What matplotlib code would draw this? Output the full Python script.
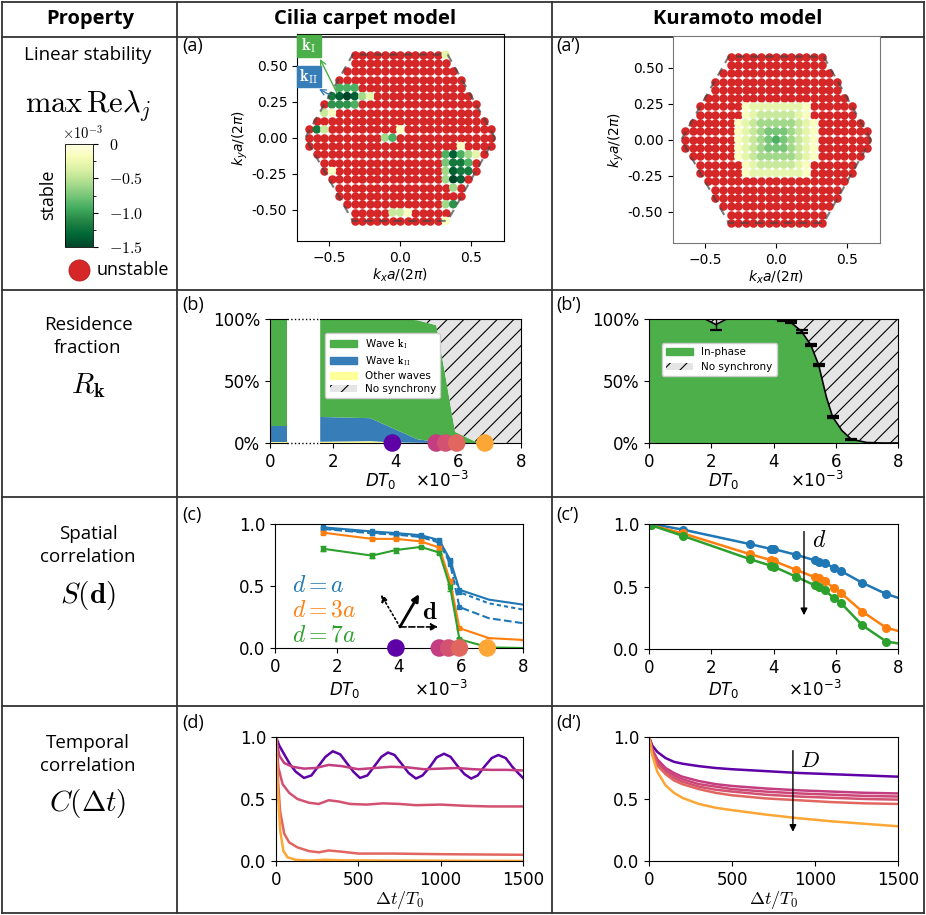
import numpy as np
import matplotlib
matplotlib.use('Agg')
import matplotlib.pyplot as plt
import matplotlib.ticker as mticker
from matplotlib.cm import ScalarMappable
from matplotlib.colors import Normalize
from matplotlib.patches import Patch, Rectangle

# ---------------- data ----------------
# wave-vector grid (units of 2pi/a), dots per row
k_dx, k_dy = 0.0533, 0.0577
row_half = [12, 12, 11, 10, 10, 9, 8, 8, 7, 6, 6]   # dots on each side of kx=0 for |j| = 0..10

# cilia carpet: stable modes (m, j, level); level 0 ~ -0.15e-3 ... 9 ~ -1.5e-3
cilia_stable = [
    (6, 10, 1),
    (-8, 6, 5), (-7, 6, 5), (-6, 6, 5),
    (-9, 5, 7), (-8, 5, 8), (-7, 5, 9), (-6, 5, 8), (-5, 5, 3), (-4, 5, 1),
    (-9, 4, 6), (-8, 4, 6), (-7, 4, 6), (-6, 4, 5),
    (-10, 3, 2), (-9, 3, 0),
    (-11, 1, 7), (-10, 1, 2), (0, 1, 0),
    (-2, 0, 3), (-1, 0, 5),
    (8, -1, 0),
    (6, -2, 5), (7, -2, 8), (8, -2, 5), (9, -2, 3), (10, -2, 1),
    (6, -3, 4), (7, -3, 7), (8, -3, 7), (9, -3, 5),
    (-9, -4, 0), (6, -4, 3), (7, -4, 8), (8, -4, 7), (9, -4, 7),
    (6, -5, 3), (7, -5, 9), (8, -5, 8),
    (7, -6, 3),
    (6, -8, 3), (7, -8, 6),
    (-1, -9, 2), (0, -9, 2), (1, -9, 0),
    (6, -10, 0),
]
# kuramoto: stable block, rows j = 4..-4, columns m = -5..5 ('.' = unstable)
kura_block = [
    ".011111110.",
    ".012222210.",
    "01233333210",
    "01234443210",
    "01234543210",
    "01234443210",
    "01233333210",
    ".012222210.",
    ".011111110.",
]

# simulated noise strengths (x 1e-3) highlighted in (b), (c), (d)
D_sim = [3.9, 5.3, 5.6, 5.95, 6.85]

# (b) residence fractions, cilia carpet
bar0 = {'other': 0.01, 'kII': 0.13, 'kI': 0.86}
res_D = [1.6, 3.2, 3.9, 4.7, 5.3, 5.6, 5.9, 6.6, 8.0]
res_other = [0.01, 0.015, 0.005, 0.002, 0.0, 0.0, 0.0, 0.0, 0.0]
res_kII = [0.20, 0.185, 0.115, 0.028, 0.01, 0.005, 0.0, 0.0, 0.0]
res_kI = [0.79, 0.80, 0.88, 0.96, 0.94, 0.525, 0.09, 0.005, 0.0]

# (b') kuramoto in-phase fraction
kr_D = [0, 1.0, 1.8, 2.15, 2.5, 3.3, 4.0, 4.3, 4.55, 4.9, 5.2, 5.45, 5.7, 5.9, 6.2, 6.5, 7.0, 7.5, 8.0]
kr_in = [1, 1, 1, 0.955, 1, 1, 1.0, 0.99, 0.975, 0.90, 0.79, 0.63, 0.37, 0.21, 0.10, 0.03, 0.004, 0, 0]
kr_err_D = [2.15, 4.3, 4.55, 4.9, 5.2, 5.45, 5.9, 6.5]
kr_err_v = [0.955, 0.99, 0.975, 0.90, 0.79, 0.63, 0.21, 0.03]
kr_err_e = [0.045, 0.008, 0.008, 0.01, 0.01, 0.01, 0.01, 0.005]

# (c) spatial correlation, cilia carpet
sc_D = [1.56, 3.13, 3.9, 4.7, 5.3, 5.65, 5.95, 6.9, 8.0]
sc_a1 = [0.973, 0.94, 0.927, 0.91, 0.87, 0.71, 0.47, 0.39, 0.35]
sc_a2 = [0.965, 0.93, 0.92, 0.90, 0.86, 0.70, 0.45, 0.36, 0.31]
sc_a3 = [0.96, 0.925, 0.915, 0.895, 0.85, 0.68, 0.33, 0.24, 0.20]
sc_3a = [0.93, 0.88, 0.88, 0.86, 0.81, 0.54, 0.16, 0.08, 0.065]
sc_7a = [0.80, 0.745, 0.79, 0.815, 0.77, 0.49, 0.07, 0.005, 0.0]
sc_3a_err = [0.012, 0.012, 0.012, 0.01, 0.01, 0.02, 0.01, 0, 0]
sc_7a_err = [0.02, 0.02, 0.02, 0.01, 0.01, 0.03, 0.01, 0, 0]

# (c') spatial correlation, kuramoto
ks_D = [0.07, 1.09, 3.23, 3.93, 4.0, 4.71, 5.32, 5.46, 5.64, 5.93, 6.16, 6.85, 7.62, 8.0]
ks_a = [1.0, 0.955, 0.84, 0.80, 0.80, 0.755, 0.71, 0.70, 0.69, 0.65, 0.625, 0.53, 0.44, 0.41]
ks_3a = [0.99, 0.925, 0.76, 0.71, 0.705, 0.635, 0.575, 0.565, 0.545, 0.49, 0.45, 0.30, 0.17, 0.145]
ks_7a = [0.99, 0.905, 0.72, 0.665, 0.66, 0.58, 0.51, 0.50, 0.47, 0.41, 0.37, 0.19, 0.06, 0.045]

# (d) temporal correlation, cilia carpet
tc_t0 = [0, 20, 50, 85, 120, 170, 215, 255, 300, 345, 390, 430, 470, 510, 555, 595, 640, 680,
         720, 765, 805, 850, 890, 935, 975, 1020, 1060, 1100, 1145, 1185, 1225, 1265, 1310,
         1350, 1395, 1435, 1470, 1500]
tc_c0 = [1.0, 0.93, 0.86, 0.78, 0.72, 0.67, 0.69, 0.76, 0.84, 0.885, 0.86, 0.79, 0.72, 0.67,
         0.69, 0.76, 0.84, 0.875, 0.855, 0.78, 0.71, 0.665, 0.69, 0.76, 0.835, 0.865, 0.84,
         0.77, 0.70, 0.665, 0.69, 0.76, 0.83, 0.855, 0.83, 0.76, 0.71, 0.67]
tc_t1 = [0, 20, 50, 100, 170, 240, 320, 400, 500, 600, 700, 800, 900, 1000, 1100, 1200, 1300, 1400, 1500]
tc_c1 = [1.0, 0.85, 0.79, 0.76, 0.745, 0.75, 0.775, 0.765, 0.74, 0.75, 0.76, 0.755, 0.74, 0.745,
         0.75, 0.74, 0.735, 0.735, 0.73]
tc_t2 = [0, 15, 40, 80, 130, 200, 260, 320, 380, 450, 550, 650, 750, 850, 1000, 1150, 1300, 1500]
tc_c2 = [1.0, 0.75, 0.62, 0.55, 0.50, 0.47, 0.46, 0.49, 0.48, 0.46, 0.455, 0.465, 0.46, 0.45,
         0.455, 0.445, 0.44, 0.44]
tc_t3 = [0, 10, 25, 50, 80, 130, 200, 260, 320, 400, 500, 700, 1000, 1500]
tc_c3 = [1.0, 0.70, 0.40, 0.22, 0.15, 0.11, 0.08, 0.07, 0.085, 0.075, 0.06, 0.06, 0.055, 0.05]
tc_t4 = [0, 10, 25, 45, 70, 120, 200, 300, 400, 1500]
tc_c4 = [1.0, 0.60, 0.25, 0.08, 0.03, 0.01, 0.003, 0.01, 0.005, 0.0]

# (d') temporal correlation, kuramoto
kt_t = [0, 20, 50, 100, 150, 200, 300, 400, 500, 700, 900, 1100, 1300, 1500]
kt_c = [
    [1, 0.93, 0.88, 0.83, 0.80, 0.785, 0.765, 0.75, 0.74, 0.725, 0.71, 0.70, 0.69, 0.68],
    [1, 0.90, 0.82, 0.75, 0.71, 0.68, 0.645, 0.62, 0.605, 0.585, 0.57, 0.56, 0.55, 0.545],
    [1, 0.89, 0.80, 0.73, 0.69, 0.66, 0.62, 0.60, 0.58, 0.56, 0.545, 0.535, 0.525, 0.52],
    [1, 0.88, 0.78, 0.71, 0.67, 0.64, 0.60, 0.575, 0.56, 0.535, 0.52, 0.51, 0.50, 0.495],
    [1, 0.87, 0.77, 0.70, 0.65, 0.62, 0.58, 0.55, 0.53, 0.505, 0.49, 0.475, 0.465, 0.46],
    [1, 0.85, 0.72, 0.61, 0.55, 0.51, 0.46, 0.43, 0.41, 0.375, 0.345, 0.32, 0.30, 0.28],
]
kt_D = [3.9, 5.3, 5.45, 5.6, 5.95, 6.85]

# ---------------- style ----------------
W, H = 926, 915
TXT = 'Open Sans'
C_BLUE, C_ORANGE, C_GREEN = '#1f77b4', '#ff7f0e', '#2ca02c'
G_KI, G_KII, G_OTHER, G_NONE = '#4daf4a', '#377eb8', '#ffff99', '#e5e5e5'
RED = '#d62728'
plt.rcParams['font.family'] = ['DejaVu Sans']
plt.rcParams['hatch.linewidth'] = 0.8
D_norm = Normalize(3.1, 7.8)
D_cmap = plt.get_cmap('plasma')
stab_norm = Normalize(-1.5, 0)
stab_cmap = plt.get_cmap('YlGn_r')

fig = plt.figure(figsize=(W / 100, H / 100), dpi=100)


def ax_px(x0, y0, x1, y1, **kw):
    return fig.add_axes([x0 / W, 1 - y1 / H, (x1 - x0) / W, (y1 - y0) / H], **kw)


bg = ax_px(0, 0, W, H)
bg.set_xlim(0, W)
bg.set_ylim(H, 0)
bg.axis('off')

# table frame
for x in [2, 177, 552, 924]:
    bg.plot([x, x], [2, 913], color='#333333', lw=1.3)
for y in [2, 37, 290, 497, 706, 913]:
    bg.plot([2, 924], [y, y], color='#333333', lw=1.3)

for x, s in [(90, 'Property'), (365, 'Cilia carpet model'), (738, 'Kuramoto model')]:
    bg.text(x, 19, s, ha='center', va='center', fontsize=14.5, fontweight='bold', family=TXT)

# left column
bg.text(88, 55, 'Linear stability', ha='center', va='center', fontsize=13.5, family=TXT)
bg.text(88, 106, r'$\max\,\mathrm{Re}\lambda_j$', ha='center', va='center', fontsize=22,
        math_fontfamily='cm')
bg.text(83, 133, r'$\times10^{-3}$', ha='center', va='center', fontsize=10.5, math_fontfamily='cm')
bg.text(48, 195, 'stable', ha='center', va='center', rotation=90, fontsize=13, family=TXT)
bg.scatter([79], [270], s=230, color=RED, edgecolors='#b01e1e', lw=0.6)
bg.text(97, 270, 'unstable', ha='left', va='center', fontsize=13, family=TXT)
for y0, lines, sym in [(325, ['Residence', 'fraction'], r'$R_\mathbf{k}$'),
                       (534, ['Spatial', 'correlation'], r'$S(\mathbf{d})$'),
                       (743, ['Temporal', 'correlation'], r'$C(\Delta t)$')]:
    bg.text(88, y0, lines[0], ha='center', va='center', fontsize=13.5, family=TXT)
    bg.text(88, y0 + 23, lines[1], ha='center', va='center', fontsize=13.5, family=TXT)
    bg.text(88, y0 + 61, sym, ha='center', va='center', fontsize=21, math_fontfamily='cm')

for x, y, s in [(182, 46, '(a)'), (556, 46, '(a\u2019)'), (182, 305, '(b)'), (556, 305, '(b\u2019)'),
                (182, 515, '(c)'), (556, 515, '(c\u2019)'), (182, 723, '(d)'), (556, 723, '(d\u2019)')]:
    bg.text(x, y, s, ha='left', va='center', fontsize=13, family=TXT)

# colorbar
cax = ax_px(65, 144, 93, 247)
cb = fig.colorbar(ScalarMappable(stab_norm, stab_cmap), cax=cax)
cb.set_ticks([-1.5, -1.0, -0.5, 0])
cb.set_ticklabels(['$-1.5$', '$-1.0$', '$-0.5$', '$0$'])
cax.yaxis.set_minor_locator(mticker.MultipleLocator(0.25))
cax.tick_params(labelsize=11.5, pad=8)
for t in cax.get_yticklabels():
    t.set_math_fontfamily('cm')
cb.outline.set_linewidth(0.6)


# ---------------- (a), (a') stability maps ----------------
def grid_points():
    pts = []
    for j in range(10, -11, -1):
        L = row_half[abs(j)]
        for m in range(-L, L + 1):
            pts.append((m, j))
    return pts


def draw_map(ax, stable):
    pts = grid_points()
    kx = np.array([m * k_dx for m, j in pts])
    ky = np.array([j * k_dy for m, j in pts])
    vals = np.array([stable.get(p, np.nan) for p in pts])
    uns = np.isnan(vals)
    ax.scatter(kx[uns], ky[uns], s=38, color=RED, lw=0, zorder=2)
    ax.scatter(kx[~uns], ky[~uns], s=38, c=vals[~uns], cmap=stab_cmap, norm=stab_norm, lw=0, zorder=2)
    ang = np.deg2rad(np.arange(0, 361, 60))
    ax.plot(2 / 3 * np.cos(ang), 2 / 3 * np.sin(ang), color='#444444', alpha=0.7, lw=1.5,
            dashes=(4, 3), zorder=3)
    ax.set_xlim(-0.725, 0.73)
    ax.set_ylim(-0.717, 0.72)
    ax.set_xticks([-0.5, 0, 0.5])
    ax.set_yticks([-0.5, -0.25, 0, 0.25, 0.5])
    ax.yaxis.set_major_formatter(mticker.FormatStrFormatter('%.2f'))
    ax.tick_params(labelsize=10)
    ax.set_xlabel(r'$k_xa/(2\pi)$', fontsize=10, labelpad=1)
    ax.set_ylabel(r'$k_ya/(2\pi)$', fontsize=10, labelpad=1)


level_val = lambda lv: -(lv + 1) * 0.15
axa = ax_px(297, 34, 504, 241, facecolor='none')
draw_map(axa, {(m, j): level_val(lv) for m, j, lv in cilia_stable})

kura_stable = {}
for r, row in enumerate(kura_block):
    for c, ch in enumerate(row):
        if ch != '.':
            kura_stable[(c - 5, 4 - r)] = level_val(int(ch))
axa2 = ax_px(673, 36, 880, 243)
draw_map(axa2, kura_stable)
for sp in axa2.spines.values():
    sp.set_color('#777777')


def D_axis(ax, lx, ly, ox):
    ax.set_xlim(0, 8)
    ax.set_xticks([0, 2, 4, 6, 8])
    ax.tick_params(labelsize=12)
    ax.set_xlabel(r'$DT_0$', fontsize=12)
    ax.xaxis.set_label_coords(lx, ly)
    ax.xaxis.label.set_verticalalignment('center')
    ax.text(ox, ly, r'$\times10^{-3}$', transform=ax.transAxes, ha='center', va='center',
            fontsize=12)


def sim_dots(ax):
    ax.scatter(D_sim, [0] * len(D_sim), s=160, c=[D_cmap(D_norm(d)) for d in D_sim], lw=0,
               zorder=10, clip_on=False)


hatch_kw = dict(facecolor=G_NONE, edgecolor='k', hatch='//', lw=0)

# ---------------- (b) ----------------
axb = ax_px(270, 319, 521, 443)
axb.bar([0], [bar0['other']], width=0.55, align='edge', color=G_OTHER)
axb.bar([0], [bar0['kII']], bottom=[bar0['other']], width=0.55, align='edge', color=G_KII)
axb.bar([0], [bar0['kI']], bottom=[bar0['other'] + bar0['kII']], width=0.55, align='edge', color=G_KI)
axb.stackplot(res_D, res_other, res_kII, res_kI, colors=[G_OTHER, G_KII, G_KI], lw=0)
top = np.array(res_other) + np.array(res_kII) + np.array(res_kI)
axb.fill_between(res_D, top, 1, **hatch_kw)
axb.set_ylim(0, 1)
axb.set_yticks([0, 0.5, 1])
axb.yaxis.set_major_formatter(mticker.PercentFormatter(1.0, decimals=0))
for sp in ['top', 'bottom']:
    axb.spines[sp].set_visible(False)
for y in [0, 1]:
    axb.plot([0, 0.55], [y, y], color='k', lw=0.8, clip_on=False, zorder=5)
    axb.plot([1.6, 8], [y, y], color='k', lw=0.8, clip_on=False, zorder=5)
    axb.plot([0.55, 1.6], [y, y], color='k', lw=1, ls=':', clip_on=False, zorder=5)
D_axis(axb, 0.44, -0.31, 0.685)
sim_dots(axb)
hb = [Patch(color=G_KI), Patch(color=G_KII), Patch(color=G_OTHER), Patch(**hatch_kw)]
leg = axb.legend(hb, [r'Wave $\mathbf{k}_\mathrm{I}$', r'Wave $\mathbf{k}_\mathrm{II}$', 'Other waves',
                      'No synchrony'], loc='upper left', bbox_to_anchor=(0.2, 0.93), fontsize=7.5,
                 framealpha=1, handlelength=2.6, borderpad=0.4, labelspacing=0.3)
for t in leg.get_texts()[:2]:
    t.set_math_fontfamily('cm')

# ---------------- (b') ----------------
axb2 = ax_px(649, 319, 898, 443)
axb2.fill_between(kr_D, 0, kr_in, color=G_KI, lw=0)
axb2.fill_between(kr_D, kr_in, 1, **hatch_kw)
axb2.plot(kr_D, kr_in, color='k', lw=1.2)
axb2.errorbar(kr_err_D, kr_err_v, yerr=kr_err_e, fmt='none', ecolor='k', capsize=4, lw=1,
              capthick=1.6)
axb2.set_ylim(0, 1)
axb2.set_yticks([0, 0.5, 1])
axb2.yaxis.set_major_formatter(mticker.PercentFormatter(1.0, decimals=0))
D_axis(axb2, 0.30, -0.31, 0.675)
axb2.legend([Patch(color=G_KI), Patch(**hatch_kw)], ['In-phase', 'No synchrony'], loc='upper left',
            bbox_to_anchor=(0.03, 0.85), fontsize=7.5, framealpha=1, handlelength=2.6)

# ---------------- (c) ----------------
axc = ax_px(275, 524, 523, 648)
mk = list(range(7))
axc.plot(sc_D, sc_a3, color=C_BLUE, ls='--', lw=1.5, marker='s', ms=3, markevery=mk)
axc.plot(sc_D, sc_a2, color=C_BLUE, ls=(0, (2, 1.5)), lw=1.5, marker='s', ms=3, markevery=mk)
axc.plot(sc_D, sc_a1, color=C_BLUE, lw=1.5, marker='s', ms=3.5, markevery=mk)
axc.errorbar(sc_D, sc_3a, yerr=sc_3a_err, color=C_ORANGE, lw=1.5, marker='s', ms=3.5,
             markevery=mk, capsize=2.5)
axc.errorbar(sc_D, sc_7a, yerr=sc_7a_err, color=C_GREEN, lw=1.5, marker='s', ms=3.5,
             markevery=mk, capsize=2.5)
axc.set_ylim(0, 1)
axc.set_yticks([0, 0.5, 1])
axc.yaxis.set_major_formatter(mticker.FormatStrFormatter('%.1f'))
D_axis(axc, 0.28, -0.34, 0.67)
sim_dots(axc)
for y, s, c in [(0.51, r'$d=a$', C_BLUE), (0.31, r'$d=3a$', C_ORANGE), (0.11, r'$d=7a$', C_GREEN)]:
    axc.text(0.55, y, s, color=c, fontsize=17, va='center', ha='left', math_fontfamily='cm')
o = (4.03, 0.17)
axc.annotate('', xy=(4.65, 0.435), xytext=o, arrowprops=dict(arrowstyle='-|>', color='k', lw=2,
                                                               shrinkA=0, shrinkB=0))
axc.annotate('', xy=(3.42, 0.43), xytext=o, arrowprops=dict(arrowstyle='-|>', color='k', lw=1.2,
                                                              ls=':', shrinkA=0, shrinkB=0))
axc.annotate('', xy=(5.26, 0.17), xytext=o, arrowprops=dict(arrowstyle='-|>', color='k', lw=1.2,
                                                              ls='--', shrinkA=0, shrinkB=0))
axc.text(4.75, 0.29, r'$\mathbf{d}$', fontsize=18, va='center', ha='left', math_fontfamily='cm')

# ---------------- (c') ----------------
axc2 = ax_px(649, 524, 898, 649)
mk2 = list(range(len(ks_D) - 1))
for v, c in [(ks_a, C_BLUE), (ks_3a, C_ORANGE), (ks_7a, C_GREEN)]:
    axc2.plot(ks_D, v, color=c, lw=1.8, marker='o', ms=5.5, markevery=mk2)
axc2.set_ylim(0, 1)
axc2.set_yticks([0, 0.5, 1])
axc2.yaxis.set_major_formatter(mticker.FormatStrFormatter('%.1f'))
D_axis(axc2, 0.30, -0.33, 0.665)
axc2.annotate('', xy=(4.98, 0.27), xytext=(4.98, 0.94),
              arrowprops=dict(arrowstyle='-|>', color='k', lw=1, shrinkA=0, shrinkB=0))
axc2.text(5.25, 0.87, r'$d$', fontsize=17, va='center', ha='left', math_fontfamily='cm')


# ---------------- (d), (d') ----------------
def t_axis(ax):
    ax.set_xlim(0, 1500)
    ax.set_ylim(0, 1)
    ax.set_xticks([0, 500, 1000, 1500])
    ax.set_yticks([0, 0.5, 1])
    ax.yaxis.set_major_formatter(mticker.FormatStrFormatter('%.1f'))
    ax.tick_params(labelsize=12)
    ax.set_xlabel(r'$\Delta t/T_0$', fontsize=13, labelpad=0, math_fontfamily='cm')


axd = ax_px(276, 737, 523, 861)
for (t, c), d in zip([(tc_t0, tc_c0), (tc_t1, tc_c1), (tc_t2, tc_c2), (tc_t3, tc_c3), (tc_t4, tc_c4)], D_sim):
    axd.plot(t, c, color=D_cmap(D_norm(d)), lw=1.8)
t_axis(axd)

axd2 = ax_px(649, 737, 898, 861)
for c, d in zip(kt_c, kt_D):
    axd2.plot(kt_t, c, color=D_cmap(D_norm(d)), lw=1.8)
t_axis(axd2)
axd2.annotate('', xy=(867, 0.235), xytext=(867, 0.89),
              arrowprops=dict(arrowstyle='-|>', color='k', lw=1, shrinkA=0, shrinkB=0))
axd2.text(910, 0.81, r'$D$', fontsize=16, va='center', ha='left', math_fontfamily='cm')

# ---------------- k_I / k_II tags ----------------
ov = ax_px(0, 0, W, H, facecolor='none')
ov.set_xlim(0, W)
ov.set_ylim(H, 0)
ov.axis('off')
ov.add_patch(Rectangle((297, 35), 24, 22, color=G_KI))
ov.add_patch(Rectangle((297, 66), 24, 21, color=G_KII))
ov.text(309, 46, r'$\mathbf{k}_\mathrm{I}$', color='w', ha='center', va='center', fontsize=12,
        math_fontfamily='cm')
ov.text(309, 76.5, r'$\mathbf{k}_\mathrm{II}$', color='w', ha='center', va='center', fontsize=12,
        math_fontfamily='cm')
ov.annotate('', xy=(320, 59), xytext=(337, 93), arrowprops=dict(arrowstyle='->', color=G_KI, lw=1,
                                                                 shrinkA=0, shrinkB=0))
ov.annotate('', xy=(319, 89), xytext=(330, 95), arrowprops=dict(arrowstyle='->', color=G_KII, lw=1,
                                                                 shrinkA=0, shrinkB=0))

fig.savefig('out.png', dpi=100)
